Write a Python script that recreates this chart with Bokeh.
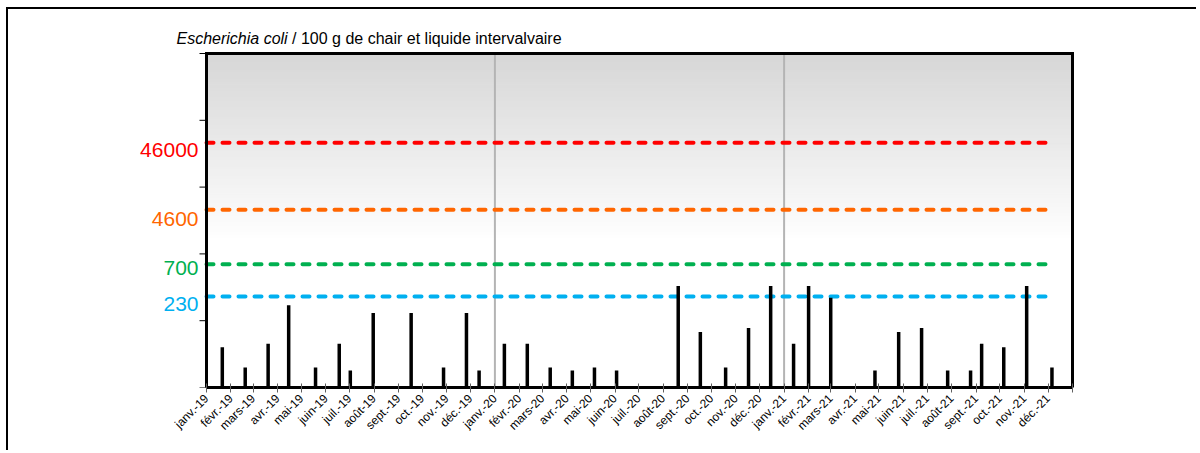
import numpy as np
import pandas as pd
from bokeh.plotting import figure
from bokeh.models import Range1d, FixedTicker, Label
from bokeh.embed import file_html
from bokeh.resources import INLINE

# ---------------- data ----------------
sample_dates = ["2019-01-21", "2019-02-19", "2019-03-20", "2019-04-15", "2019-05-19",
                "2019-06-18", "2019-07-02", "2019-07-31", "2019-09-17", "2019-10-28",
                "2019-11-26", "2019-12-12", "2020-01-13", "2020-02-11", "2020-03-11",
                "2020-04-08", "2020-05-06", "2020-06-03", "2020-08-20", "2020-09-17",
                "2020-10-19", "2020-11-17", "2020-12-15", "2021-01-13", "2021-02-01",
                "2021-03-01", "2021-04-26", "2021-05-26", "2021-06-24", "2021-07-27",
                "2021-08-25", "2021-09-08", "2021-10-06", "2021-11-04", "2021-12-06"]
ecoli_values = [40, 20, 45, 170, 20, 45, 18, 130, 130, 20, 130, 18, 45, 45, 20,
                18, 20, 18, 330, 68, 20, 78, 330, 45, 330, 220, 18, 68, 78, 18,
                18, 45, 40, 330, 20]

threshold_values = [46000, 4600, 700, 230]
threshold_labels = ["46000", "4600", "700", "230"]
threshold_colors = ["#ff0000", "#ff6600", "#00b050", "#00b0f0"]
threshold_start = "2019-01-01"
threshold_end = "2021-12-01"

month_names = ["janv.", "févr.", "mars", "avr.", "mai", "juin", "juil.", "août",
               "sept.", "oct.", "nov.", "déc."]
years = [2019, 2020, 2021]
year_separators = ["2020-01-01", "2021-01-01"]
y_ticks = [10, 100, 1000, 10000, 100000, 1000000]
y_min, y_max = 10, 1e6

title_italic = "Escherichia coli"
title_rest = "/ 100 g de chair et liquide intervalvaire"

FONT = "Liberation Sans"
TITLE_SIZE = 16.0

# ---------------- layout (pixels) ----------------
x_start = pd.Timestamp("2019-01-01")
x_end = pd.Timestamp("2022-01-01")
plot_w_px = 866.0           # width of the plot area (jan-19 .. jan-22)
plot_h_px = 334.0           # height of the plot area (10 .. 1e6)
left_pad_px = 80.0          # room inside the frame for the value labels
right_pad_px = 4.0
top_pad_px = 32.0           # room inside the frame for the title
px_per_day = plot_w_px / (x_end - x_start).days
px_per_decade = plot_h_px / 5.0
xr = Range1d(x_start - pd.Timedelta(days=left_pad_px / px_per_day),
             x_end + pd.Timedelta(days=right_pad_px / px_per_day))
yr = Range1d(y_min, 10 ** (6 + top_pad_px / px_per_decade))

p = figure(width=1190, height=443, x_axis_type="datetime", y_axis_type="log",
           x_range=xr, y_range=yr,
           output_backend="svg", toolbar_location=None,
           min_border_left=118, min_border_right=122,
           min_border_top=12, min_border_bottom=65)
p.styles = {"margin-left": "6px", "margin-top": "7px",
            "border-left": "2px solid black", "border-top": "2px solid black"}
p.grid.visible = False
p.outline_line_color = None
p.background_fill_color = "white"
p.border_fill_color = "white"
p.yaxis.visible = False

# gradient background of the plot area (decoration)
n_bands = 60
edges = np.logspace(3.2, 6, n_bands + 1)
grays = np.linspace(255, 215, n_bands).astype(int)
band_colors = ["#%02x%02x%02x" % (g, g, g) for g in grays]
p.quad(left=[x_start] * n_bands, right=[x_end] * n_bands,
       bottom=edges[:-1], top=edges[1:], fill_color=band_colors,
       line_color=band_colors, line_width=1)

# year separators
sep = pd.to_datetime(year_separators)
p.segment(x0=sep, y0=[y_min] * len(sep), x1=sep, y1=[y_max] * len(sep),
          line_color="#b4b4b4", line_width=2)

# threshold lines
for v, c in zip(threshold_values, threshold_colors):
    p.line(x=[pd.Timestamp(threshold_start), pd.Timestamp(threshold_end)], y=[v, v],
           line_color=c, line_width=4, line_dash="7 9", line_cap="round")

# bars
xs = pd.to_datetime(sample_dates)
p.segment(x0=xs, y0=[y_min] * len(xs), x1=xs, y1=ecoli_values,
          line_color="black", line_width=3.5)

# plot-area border: left axis line, top and right edges
p.segment(x0=[x_start, x_start, x_end], y0=[y_min, y_max, y_min],
          x1=[x_start, x_end, x_end], y1=[y_max, y_max, y_max],
          line_color="black", line_width=3, line_cap="square")
# y axis ticks (outside, no labels)
tick_len = pd.Timedelta(days=7 / px_per_day)
p.segment(x0=[x_start - tick_len] * len(y_ticks), y0=y_ticks,
          x1=[x_start] * len(y_ticks), y1=y_ticks,
          line_color="black", line_width=1)

# threshold labels
offsets = [-7, -9, -4, -7]
for v, t, c, o in zip(threshold_values, threshold_labels, threshold_colors, offsets):
    p.add_layout(Label(x=x_start, y=v, x_offset=-8, y_offset=o, text=t,
                       text_color=c, text_font=FONT, text_font_size="21px",
                       text_align="right", text_baseline="middle"))

# title (two parts: italic species name, then the unit)
italic_w = 6.946 * TITLE_SIZE
space_w = 0.278 * TITLE_SIZE
p.add_layout(Label(x=x_start, y=y_max, x_offset=-30, y_offset=15, text=title_italic,
                   text_font=FONT, text_font_size=f"{TITLE_SIZE}px", text_font_style="italic",
                   text_baseline="middle", text_color="black"))
p.add_layout(Label(x=x_start, y=y_max, x_offset=-30 + italic_w + space_w, y_offset=15,
                   text=title_rest, text_font=FONT, text_font_size=f"{TITLE_SIZE}px",
                   text_baseline="middle", text_color="black"))

# x axis
tick_dates = [pd.Timestamp(year=y, month=m, day=1) for y in years for m in range(1, 13)]
tick_dates.append(x_end)
tick_ms = [float((d - pd.Timestamp("1970-01-01")) / pd.Timedelta(milliseconds=1)) for d in tick_dates]
tick_text = [f"{month_names[d.month - 1]}-{d.year % 100:02d}" for d in tick_dates[:-1]] + [""]
xa = p.xaxis[0]
xa.bounds = (x_start, x_end)
xa.ticker = FixedTicker(ticks=tick_ms, minor_ticks=[])
xa.major_label_overrides = {ms: t for ms, t in zip(tick_ms, tick_text)}
xa.major_label_orientation = np.pi / 4
xa.major_label_text_font = FONT
xa.major_label_text_font_size = "12px"
xa.major_label_text_color = "black"
xa.axis_line_color = "black"
xa.axis_line_width = 3
xa.major_tick_in = 4
xa.major_tick_out = 5
xa.major_tick_line_color = "#606060"
xa.major_tick_line_width = 1
xa.major_label_standoff = 4

open("out.html", "w").write(file_html(p, INLINE))
